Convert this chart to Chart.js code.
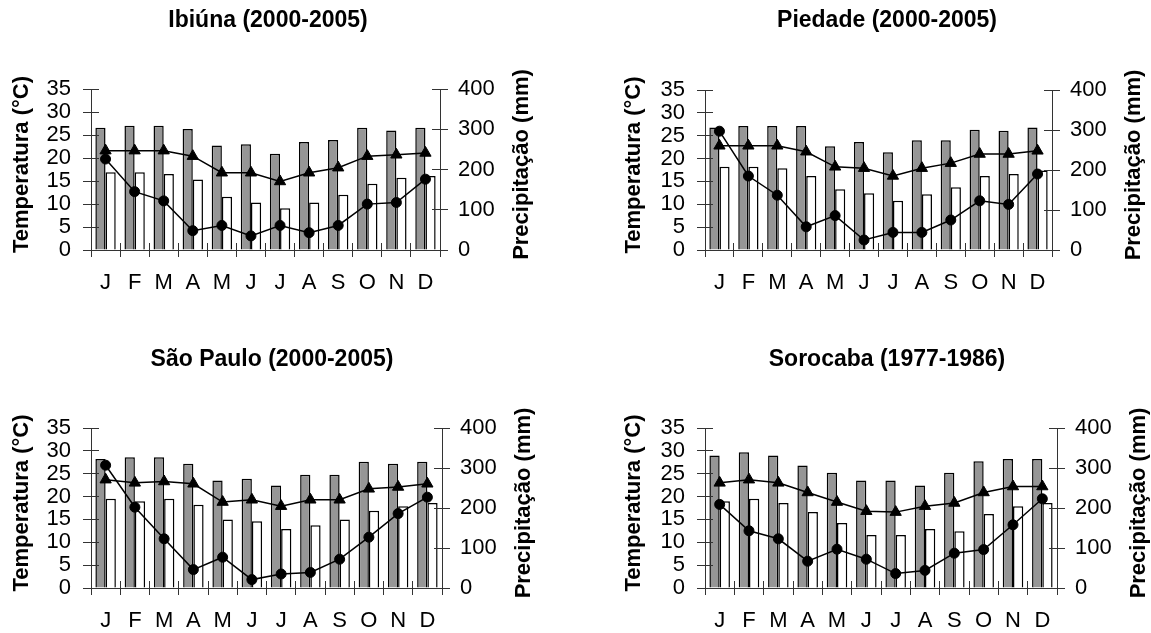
<!DOCTYPE html>
<html><head><meta charset="utf-8">
<script src="https://cdn.jsdelivr.net/npm/chart.js@4.4.0/dist/chart.umd.min.js"></script>
<style>
html,body{margin:0;padding:0;background:#fff;width:1151px;height:633px;overflow:hidden}
canvas{position:absolute}
</style></head><body>
<canvas id="c1" width="575" height="316" style="left:0px;top:0px;width:575px;height:316px"></canvas>
<canvas id="c2" width="575" height="316" style="left:576px;top:0px;width:575px;height:316px"></canvas>
<canvas id="c3" width="575" height="316" style="left:0px;top:317px;width:575px;height:316px"></canvas>
<canvas id="c4" width="575" height="316" style="left:576px;top:317px;width:575px;height:316px"></canvas>
<script>
// ---- data ----
const months = ['J','F','M','A','M','J','J','A','S','O','N','D'];
const tempTicks = [0,5,10,15,20,25,30,35];
const precTicks = [0,100,200,300,400];

const ibiunaMax  = [26.6,27.0,27.0,26.3,22.7,23.0,20.9,23.5,23.9,26.6,26.0,26.6];
const ibiunaMin  = [16.9,16.9,16.5,15.3,11.6,10.3,9.1,10.3,12.0,14.4,15.7,16.1];
const ibiunaMean = [21.6,21.6,21.6,20.4,16.8,16.8,14.9,16.8,17.9,20.4,20.7,21.1];
const ibiunaPrec = [226,145,122,48,61,35,61,43,61,114,118,176];

const piedadeMax  = [26.8,27.1,27.1,27.1,22.7,23.6,21.4,24.0,24.0,26.3,26.1,26.8];
const piedadeMin  = [18.2,18.2,17.9,16.2,13.3,12.4,10.8,12.2,13.7,16.2,16.6,17.4];
const piedadeMean = [22.8,22.8,22.8,21.5,18.2,17.9,16.2,17.9,19.0,21.0,21.0,21.7];
const piedadePrec = [297,185,137,58,86,25,44,44,75,123,114,190];

const spMax  = [28.2,28.6,28.6,27.2,23.5,23.9,22.4,24.8,24.8,27.6,27.2,27.6];
const spMin  = [19.5,19.0,19.5,18.2,15.0,14.6,12.9,13.7,15.0,16.9,17.9,18.6];
const spMean = [23.7,23.0,23.3,22.8,18.8,19.3,17.9,19.3,19.3,21.7,22.1,22.8];
const spPrec = [307,202,123,46,77,21,35,39,72,127,186,227];

const sorocabaMax  = [29.0,29.7,29.0,26.8,25.2,23.5,23.5,22.4,25.2,27.7,28.2,28.2];
const sorocabaMin  = [19.0,19.5,18.6,16.6,14.2,11.6,11.6,12.9,12.4,16.2,17.9,18.6];
const sorocabaMean = [23.0,23.7,23.0,20.9,18.8,16.8,16.6,17.9,18.6,20.9,22.2,22.2];
const sorocabaPrec = [209,143,123,67,97,72,36,44,87,96,158,223];

const titles = ['Ibiúna (2000-2005)','Piedade (2000-2005)','São Paulo (2000-2005)','Sorocaba (1977-1986)'];
const leftTitle = 'Temperatura (°C)';
const rightTitle = 'Precipitação (mm)';

// ---- style / layout ----
const FONT = "'Liberation Sans', Arial, sans-serif";
const AXIS = '#333';
const W = 575, H = 316;
const panels = [
  {id:'c1', max:ibiunaMax, min:ibiunaMin, mean:ibiunaMean, prec:ibiunaPrec, title:titles[0],
   L:91, R:440, T:89, B:250, tx:268, ty:21, lx:22, rx:522},
  {id:'c2', max:piedadeMax, min:piedadeMin, mean:piedadeMean, prec:piedadePrec, title:titles[1],
   L:129, R:476, T:90, B:250, tx:311, ty:21, lx:58, rx:558},
  {id:'c3', max:spMax, min:spMin, mean:spMean, prec:spPrec, title:titles[2],
   L:91, R:442, T:111, B:271, tx:272, ty:43, lx:22, rx:524},
  {id:'c4', max:sorocabaMax, min:sorocabaMin, mean:sorocabaMean, prec:sorocabaPrec, title:titles[3],
   L:129, R:481, T:111, B:271, tx:311, ty:43, lx:58, rx:563}
];

function align(p){ return Math.round(p - 0.5) + 0.5; }

const decor = {
  id:'decor',
  afterDraw(chart, args, opts){
    const ctx = chart.ctx, a = chart.chartArea;
    const y = chart.scales.y, y1 = chart.scales.y1, x = chart.scales.x;
    ctx.save();
    ctx.strokeStyle = AXIS; ctx.lineWidth = 1;
    ctx.beginPath();
    y.ticks.forEach((t,i)=>{ const p = align(y.getPixelForTick(i)); ctx.moveTo(a.left, p); ctx.lineTo(a.left+8, p); });
    y1.ticks.forEach((t,i)=>{ const p = align(y1.getPixelForTick(i)); ctx.moveTo(a.right-8, p); ctx.lineTo(a.right, p); });
    for (let i = 0; i <= months.length; i++) {
      const p = align(x.getPixelForValue(i - 0.5));
      ctx.moveTo(p, a.bottom - 7); ctx.lineTo(p, a.bottom);
    }
    ctx.stroke();
    ctx.fillStyle = '#000';
    ctx.textAlign = 'center'; ctx.textBaseline = 'middle';
    ctx.font = 'bold 23px ' + FONT;
    ctx.fillText(opts.title, opts.tx, opts.ty);
    const cy = (a.top + a.bottom)/2 - 5;
    ctx.font = 'bold 22px ' + FONT;
    ctx.save(); ctx.translate(opts.lx, cy); ctx.rotate(-Math.PI/2); ctx.fillText(leftTitle, 0, 0); ctx.restore();
    ctx.save(); ctx.translate(opts.rx, cy); ctx.rotate(-Math.PI/2); ctx.fillText(rightTitle, 0, 0); ctx.restore();
    ctx.restore();
  }
};

panels.forEach(pn => {
  const cv = document.getElementById(pn.id);
  new Chart(cv, {
    type: 'bar',
    data: {
      labels: months,
      datasets: [
        {type:'line', data:pn.mean, yAxisID:'y', order:0, borderColor:'#000', borderWidth:1.5,
         backgroundColor:'#000', pointStyle:'triangle', pointRadius:6.5, pointBorderWidth:1, tension:0},
        {type:'line', data:pn.prec, yAxisID:'y1', order:0, borderColor:'#000', borderWidth:1.5,
         backgroundColor:'#000', pointStyle:'circle', pointRadius:5, pointBorderWidth:1, tension:0},
        {type:'bar', data:pn.max, yAxisID:'y', order:1, backgroundColor:'#969696', borderColor:'#000',
         borderWidth:1.5, categoryPercentage:0.7, barPercentage:1.0},
        {type:'bar', data:pn.min, yAxisID:'y', order:1, backgroundColor:'#fff', borderColor:'#000',
         borderWidth:1.5, categoryPercentage:0.7, barPercentage:1.0}
      ]
    },
    options: {
      responsive:false, animation:false, devicePixelRatio:1,
      layout:{padding:{top:pn.T, left:0, right:0, bottom:0}},
      plugins:{legend:{display:false}, tooltip:{enabled:false}, title:{display:false},
        decor:{title:pn.title, tx:pn.tx, ty:pn.ty, lx:pn.lx, rx:pn.rx}},
      scales:{
        x:{ offset:true,
            grid:{offset:true, drawOnChartArea:false, tickLength:7, color:AXIS, lineWidth:1},
            border:{color:AXIS, width:1},
            ticks:{font:{family:FONT, size:22}, color:'#000', padding:13, maxRotation:0, autoSkip:false},
            afterFit:s=>{ s.height = H - pn.B; } },
        y:{ position:'left', min:0, max:35,
            afterBuildTicks:s=>{ s.ticks = tempTicks.map(v=>({value:v})); },
            grid:{drawOnChartArea:false, tickLength:8, color:AXIS, lineWidth:1},
            border:{color:AXIS, width:1},
            ticks:{font:{family:FONT, size:22}, color:'#000', padding:12, autoSkip:false},
            afterFit:s=>{ s.width = pn.L; } },
        y1:{ position:'right', min:0, max:400,
            afterBuildTicks:s=>{ s.ticks = precTicks.map(v=>({value:v})); },
            grid:{drawOnChartArea:false, tickLength:8, color:AXIS, lineWidth:1},
            border:{color:AXIS, width:1},
            ticks:{font:{family:FONT, size:22}, color:'#000', padding:10, autoSkip:false},
            afterFit:s=>{ s.width = W - pn.R; } }
      }
    },
    plugins:[decor]
  });
});
</script>
</body></html>
